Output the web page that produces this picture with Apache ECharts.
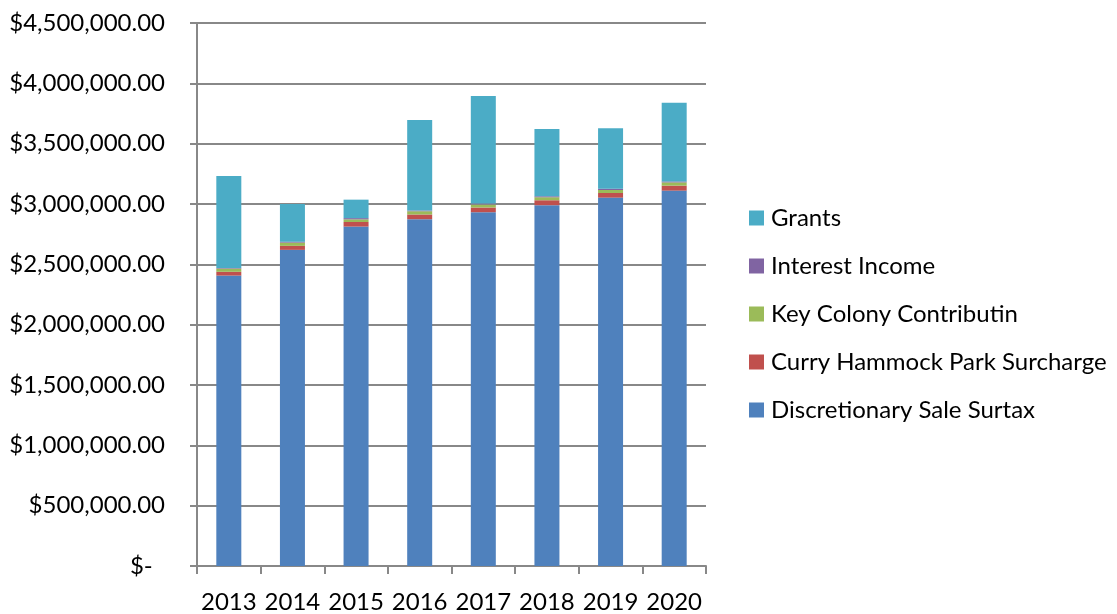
<!DOCTYPE html>
<html>
<head>
<meta charset="utf-8">
<script src="https://cdn.jsdelivr.net/npm/echarts@6/dist/echarts.min.js"></script>
<style>
  html, body { margin: 0; padding: 0; background: #fff; }
  #chart { width: 1117px; height: 614px; }
</style>
</head>
<body>
<div id="chart"></div>
<script>
// Revenue sources by year (USD)
const years = ['2013', '2014', '2015', '2016', '2017', '2018', '2019', '2020'];
const discretionarySaleSurtax = [2407000, 2620000, 2813000, 2874000, 2932000, 2990000, 3053000, 3111000];
const curryHammockSurcharge   = [31000, 33000, 38000, 39000, 39000, 41000, 38000, 41000];
const keyColonyContribution   = [27000, 27000, 22000, 27000, 25000, 25000, 25000, 27000];
const interestIncome          = [5000, 8000, 10000, 6000, 8000, 8000, 11000, 8000];
const grants                  = [762000, 312000, 153000, 750000, 891000, 558000, 500000, 652000];

const FONT = 'Lato, "Open Sans", sans-serif';
const FS = 24;

// Accounting-style currency: zero shows as a dash
function money(v) {
  if (v === 0) return '$-  ';
  return '$' + v.toLocaleString('en-US', { minimumFractionDigits: 2, maximumFractionDigits: 2 });
}

function bar(name, data, color) {
  return {
    name: name,
    type: 'bar',
    stack: 'total',
    data: data,
    barWidth: 25,
    itemStyle: { color: color },
    emphasis: { disabled: true }
  };
}

const chart = echarts.init(document.getElementById('chart'), null, { renderer: 'canvas' });
chart.setOption({
  animation: false,
  textStyle: { fontFamily: FONT },
  grid: { left: 197, right: 411, top: 23, bottom: 47 },
  legend: {
    orient: 'vertical',
    left: 744,
    top: 201,
    itemWidth: 15,
    itemHeight: 15,
    itemGap: 24,
    icon: 'rect',
    textStyle: { fontFamily: FONT, fontSize: FS, color: '#000', lineHeight: 24, padding: [0, 0, 0, 2] },
    data: ['Grants', 'Interest Income', 'Key Colony Contributin', 'Curry Hammock Park Surcharge', 'Discretionary Sale Surtax']
  },
  xAxis: {
    type: 'category',
    data: years,
    axisLine: { lineStyle: { color: '#888', width: 2 } },
    axisTick: { show: true, interval: 0, alignWithLabel: false, length: 8, lineStyle: { color: '#888', width: 2 } },
    axisLabel: { interval: 0, color: '#000', fontSize: FS, fontFamily: FONT, margin: 24 }
  },
  yAxis: {
    type: 'value',
    min: 0,
    max: 4500000,
    interval: 500000,
    axisLine: { show: true, lineStyle: { color: '#888', width: 2 } },
    axisTick: { show: true, length: 7, lineStyle: { color: '#888', width: 2 } },
    splitLine: { lineStyle: { color: '#888', width: 2 } },
    axisLabel: { color: '#000', fontSize: FS, fontFamily: FONT, margin: 32, formatter: money }
  },
  series: [
    bar('Discretionary Sale Surtax', discretionarySaleSurtax, '#4F81BD'),
    bar('Curry Hammock Park Surcharge', curryHammockSurcharge, '#C0504D'),
    bar('Key Colony Contributin', keyColonyContribution, '#9BBB59'),
    bar('Interest Income', interestIncome, '#8064A2'),
    bar('Grants', grants, '#4BACC6')
  ]
});
</script>
</body>
</html>
